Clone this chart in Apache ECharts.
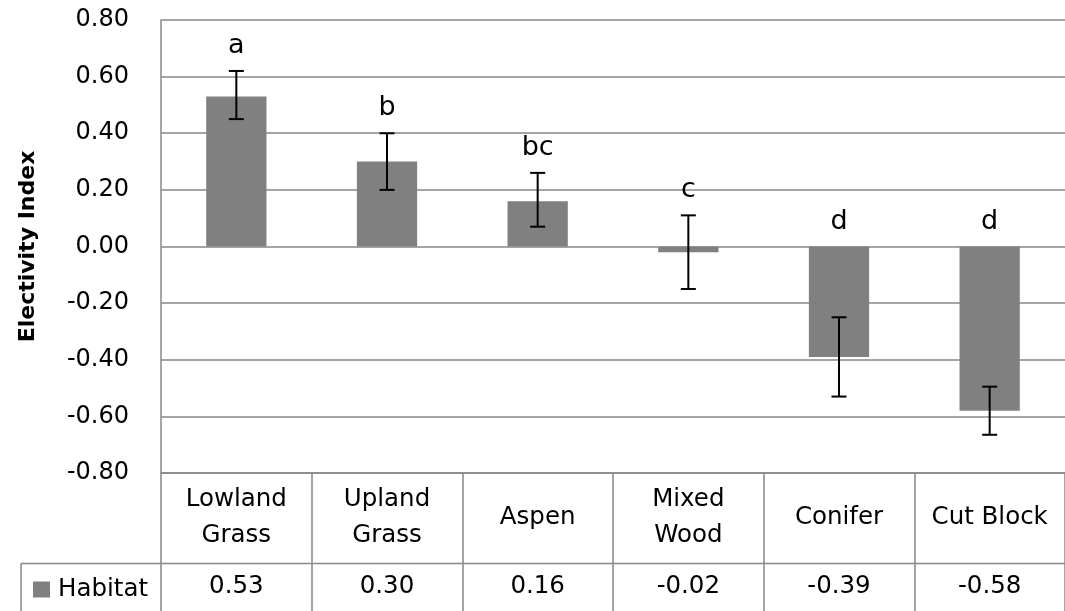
<!DOCTYPE html>
<html>
<head>
<meta charset="utf-8">
<script src="https://cdn.jsdelivr.net/npm/echarts@6/dist/echarts.min.js"></script>
<style>
html,body{margin:0;padding:0;background:#fff;}
#c{width:1065px;height:611px;}
</style>
</head>
<body>
<div id="c"></div>
<script>
const categories = ['Lowland\nGrass', 'Upland\nGrass', 'Aspen', 'Mixed\nWood', 'Conifer', 'Cut Block'];
const values = [0.53, 0.30, 0.16, -0.02, -0.39, -0.58];
const errHigh = [0.62, 0.40, 0.26, 0.11, -0.25, -0.495];
const errLow = [0.45, 0.20, 0.07, -0.15, -0.53, -0.665];
const letters = ['a', 'b', 'bc', 'c', 'd', 'd'];
const seriesName = 'Habitat';
const yAxisTitle = 'Electivity Index';

const FONT = 'DejaVu Sans';
const LINE = '#878787';
const BAR = '#808080';
const FS = 24.5;

const chart = echarts.init(document.getElementById('c'), null, {renderer: 'canvas'});

chart.setOption({
  animation: false,
  backgroundColor: '#fff',
  textStyle: {fontFamily: FONT},
  grid: {left: 161, top: 20, width: 908, height: 453, containLabel: false},
  legend: {
    data: [seriesName],
    left: 33, top: 577, padding: 0,
    itemWidth: 17, itemHeight: 16, icon: 'rect',
    itemStyle: {color: BAR},
    textStyle: {fontFamily: FONT, fontSize: FS, color: '#000', padding: [0, 0, 0, 3]}
  },
  xAxis: [{
    type: 'category',
    data: categories,
    position: 'bottom',
    axisLine: {show: true, onZero: false, lineStyle: {color: LINE, width: 1.5}},
    axisTick: {show: true, length: 139, interval: 0, lineStyle: {color: LINE, width: 1.5}},
    axisLabel: {interval: 0, margin: 45, verticalAlign: 'middle', lineHeight: 36,
      fontFamily: FONT, fontSize: FS, color: '#000'},
    splitLine: {show: false}
  }, {
    type: 'category',
    data: categories,
    position: 'bottom',
    offset: 91,
    axisLine: {show: false},
    axisTick: {show: false},
    axisLabel: {interval: 0, margin: 23, verticalAlign: 'middle',
      fontFamily: FONT, fontSize: FS, color: '#000',
      formatter: (v, i) => values[i].toFixed(2)},
    splitLine: {show: false}
  }],
  yAxis: {
    type: 'value',
    min: -0.8, max: 0.8, interval: 0.2,
    name: yAxisTitle,
    nameLocation: 'middle',
    nameGap: 122,
    nameTextStyle: {fontFamily: FONT, fontSize: 22, fontWeight: 'bold', color: '#000'},
    axisLine: {show: true, lineStyle: {color: LINE, width: 1.5}},
    axisTick: {show: false},
    axisLabel: {margin: 32, fontFamily: FONT, fontSize: 24, color: '#000',
      formatter: v => v.toFixed(2)},
    splitLine: {show: true, lineStyle: {color: LINE, width: 1.5}}
  },
  graphic: [
    {type: 'line', shape: {x1: 21, y1: 563.5, x2: 1065, y2: 563.5}, style: {stroke: LINE, lineWidth: 1.5}, z: 10},
    {type: 'line', shape: {x1: 21, y1: 563.5, x2: 21, y2: 611}, style: {stroke: LINE, lineWidth: 1.5}, z: 10}
  ],
  series: [{
    name: seriesName,
    type: 'bar',
    data: values,
    barWidth: '40%',
    itemStyle: {color: BAR},
    z: 2
  }, {
    name: 'err',
    type: 'custom',
    data: values.map((v, i) => [i, errLow[i], errHigh[i]]),
    z: 5,
    renderItem: function (params, api) {
      const i = api.value(0);
      const top = api.coord([i, api.value(2)]);
      const bot = api.coord([i, api.value(1)]);
      const lab = api.coord([i, Math.max(0, api.value(2))]);
      const hw = 7.5;
      const st = {stroke: '#000', lineWidth: 2};
      return {
        type: 'group',
        children: [
          {type: 'line', shape: {x1: top[0], y1: top[1], x2: bot[0], y2: bot[1]}, style: st},
          {type: 'line', shape: {x1: top[0] - hw, y1: top[1], x2: top[0] + hw, y2: top[1]}, style: st},
          {type: 'line', shape: {x1: bot[0] - hw, y1: bot[1], x2: bot[0] + hw, y2: bot[1]}, style: st},
          {type: 'text', x: lab[0], y: lab[1] - 25,
            style: {text: letters[params.dataIndex], fontFamily: FONT, fontSize: 27, fill: '#000',
              align: 'center', verticalAlign: 'middle'}}
        ]
      };
    }
  }]
});
</script>
</body>
</html>
